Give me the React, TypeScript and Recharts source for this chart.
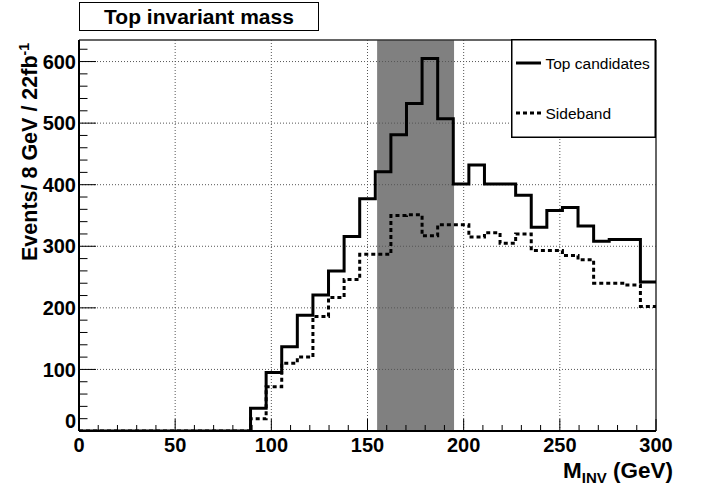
import {
  ComposedChart, Line, XAxis, YAxis, ReferenceLine, ReferenceArea, Legend, Label,
} from 'recharts'

const FONT = '"Liberation Sans", Arial, Helvetica, sans-serif'

// 37 bins of 300/37 GeV between 0 and 300
const NBINS = 37
const XMAX = 300
const BIN_W = XMAX / NBINS

const TOP_CANDIDATES = [
  0, 0, 0, 0, 0, 0, 0, 0, 0, 0, 0,
  37, 95, 137, 188, 221, 260, 316, 377, 421, 481,
  532, 605, 507, 401, 432, 401, 401, 383, 331, 358,
  363, 333, 308, 311, 311, 242,
]
const SIDEBAND = [
  0, 0, 0, 0, 0, 0, 0, 0, 0, 0, 0,
  20, 72, 110, 120, 186, 217, 246, 287, 287, 350,
  351, 317, 335, 335, 315, 322, 305, 320, 293, 293,
  285, 278, 240, 240, 237, 202,
]

const SIGNAL_WINDOW = [155, 195]
const X_TICKS = [0, 10, 20, 30, 40, 50, 60, 70, 80, 90, 100, 110, 120, 130, 140, 150,
  160, 170, 180, 190, 200, 210, 220, 230, 240, 250, 260, 270, 280, 290, 300]
const Y_TICKS = [0, 20, 40, 60, 80, 100, 120, 140, 160, 180, 200, 220, 240, 260, 280, 300,
  320, 340, 360, 380, 400, 420, 440, 460, 480, 500, 520, 540, 560, 580, 600, 620]
const X_GRID = [50, 100, 150, 200, 250]
const Y_GRID = [100, 200, 300, 400, 500, 600]
const Y_MAX = 635

const data = Array.from({ length: NBINS + 1 }, (_, i) => ({
  x: i * BIN_W,
  top: TOP_CANDIDATES[Math.min(i, NBINS - 1)],
  side: SIDEBAND[Math.min(i, NBINS - 1)],
}))

const Y_TICK_MARGIN = 3
const X_TICK_MARGIN = 7

function YTick(props: any) {
  const { x, y, payload } = props
  const v = payload.value
  const major = v % 100 === 0
  const ax = x + Y_TICK_MARGIN
  return (
    <g>
      <line x1={ax} x2={ax + (major ? 17 : 8.5)} y1={y} y2={y} stroke="#000" strokeWidth={1} />
      {major && (
        <text x={x} y={v === 0 ? y - 10 : y} dy="0.355em" textAnchor="end"
          fontFamily={FONT} fontWeight="bold" fontSize={20} fill="#000">{v}</text>
      )}
    </g>
  )
}

function XTick(props: any) {
  const { x, y, payload } = props
  const v = payload.value
  const major = v % 50 === 0
  const ay = y - X_TICK_MARGIN
  return (
    <g>
      <line x1={x} x2={x} y1={ay} y2={ay - (major ? 12 : 6)} stroke="#000" strokeWidth={1} />
      {major && (
        <text x={x} y={y} dy="0.71em" textAnchor="middle"
          fontFamily={FONT} fontWeight="bold" fontSize={20} fill="#000">{v}</text>
      )}
    </g>
  )
}

function LegendBox(props: any) {
  const items = props.payload || []
  return (
    <svg width={145} height={99} style={{ display: 'block' }}>
      <rect x={0.75} y={0.75} width={143.5} height={97.5} fill="#fff" stroke="#000" strokeWidth={1.5} />
      {items.map((it: any, i: number) => {
        const cy = 24 + i * 50
        return (
          <g key={i}>
            <line x1={5} x2={30} y1={cy} y2={cy} stroke="#000" strokeWidth={3}
              strokeDasharray={it.payload?.strokeDasharray} />
            <text x={34.5} y={cy + 5.5} fontFamily={FONT} fontSize={15.5} fill="#000">{it.value}</text>
          </g>
        )
      })}
    </svg>
  )
}

export default function App() {
  return (
    <div style={{ position: 'absolute', left: 0, top: 0, width: 702, height: 489, background: '#fff' }}>
      <ComposedChart width={702} height={489} data={data}
        margin={{ top: 40, right: 46, bottom: 0, left: 0 }}>
        {Y_GRID.map((v) => (
          <ReferenceLine key={'y' + v} y={v} stroke="#555" strokeDasharray="1 2" strokeWidth={1} />
        ))}
        {X_GRID.map((v) => (
          <ReferenceLine key={'x' + v} x={v} stroke="#555" strokeDasharray="1 2" strokeWidth={1} />
        ))}
        <ReferenceArea x1={SIGNAL_WINDOW[0]} x2={SIGNAL_WINDOW[1]} y1={0} y2={Y_MAX}
          fill="#808080" fillOpacity={1} stroke="none" />
        <ReferenceLine y={Y_MAX} stroke="#333" strokeWidth={1.5} />
        <ReferenceLine x={XMAX} stroke="#333" strokeWidth={1.5} />
        <XAxis type="number" dataKey="x" domain={[0, XMAX]} ticks={X_TICKS} interval={0}
          height={58} tickSize={0} tickMargin={X_TICK_MARGIN} tick={<XTick />}
          axisLine={{ stroke: '#000', strokeWidth: 2 }} allowDataOverflow>
          <Label content={(p: any) => {
            const vb = p.viewBox || {}
            return (
              <text x={vb.x + vb.width + 17} y={vb.y + 47} textAnchor="end"
                fontFamily={FONT} fontWeight="bold" fontSize={22.5} fill="#000">
                M<tspan fontSize={15} dy={5}>INV</tspan><tspan dy={-5}> (GeV)</tspan>
              </text>
            )
          }} />
        </XAxis>
        <YAxis type="number" domain={[0, Y_MAX]} ticks={Y_TICKS} interval={0} width={79}
          tickSize={0} tickMargin={Y_TICK_MARGIN} tick={<YTick />}
          axisLine={{ stroke: '#000', strokeWidth: 2 }} allowDataOverflow>
          <Label content={(p: any) => {
            const vb = p.viewBox || {}
            const tx = 37
            const ty = vb.y + 3
            return (
              <text x={tx} y={ty} transform={`rotate(-90 ${tx} ${ty})`} textAnchor="end"
                fontFamily={FONT} fontWeight="bold" fontSize={21.5} fill="#000">
                Events/ 8 GeV / 22fb<tspan fontSize={14} dy={-8}>-1</tspan>
              </text>
            )
          }} />
        </YAxis>
        <Line type="stepAfter" dataKey="side" name="Sideband" stroke="#000" strokeWidth={3}
          strokeDasharray="4 3" dot={false} activeDot={false} isAnimationActive={false} />
        <Line type="stepAfter" dataKey="top" name="Top candidates" stroke="#000" strokeWidth={3}
          dot={false} activeDot={false} isAnimationActive={false} />
        <Legend layout="vertical" align="center" verticalAlign="middle"
          wrapperStyle={{ left: 511, top: 39, width: 145, height: 99 }}
          content={(p: any) => {
            const items = [...(p.payload || [])].sort((a: any, b: any) =>
              a.value === 'Top candidates' ? -1 : b.value === 'Top candidates' ? 1 : 0)
            return <LegendBox payload={items} />
          }} />
      </ComposedChart>
      <div style={{
        position: 'absolute', left: 79, top: 2, width: 240, height: 29, boxSizing: 'border-box',
        border: '1px solid #000', background: '#fff', fontFamily: FONT, fontWeight: 'bold',
        fontSize: 21, lineHeight: '27px', textAlign: 'center', color: '#000',
      }}>
        Top invariant mass
      </div>
    </div>
  )
}
